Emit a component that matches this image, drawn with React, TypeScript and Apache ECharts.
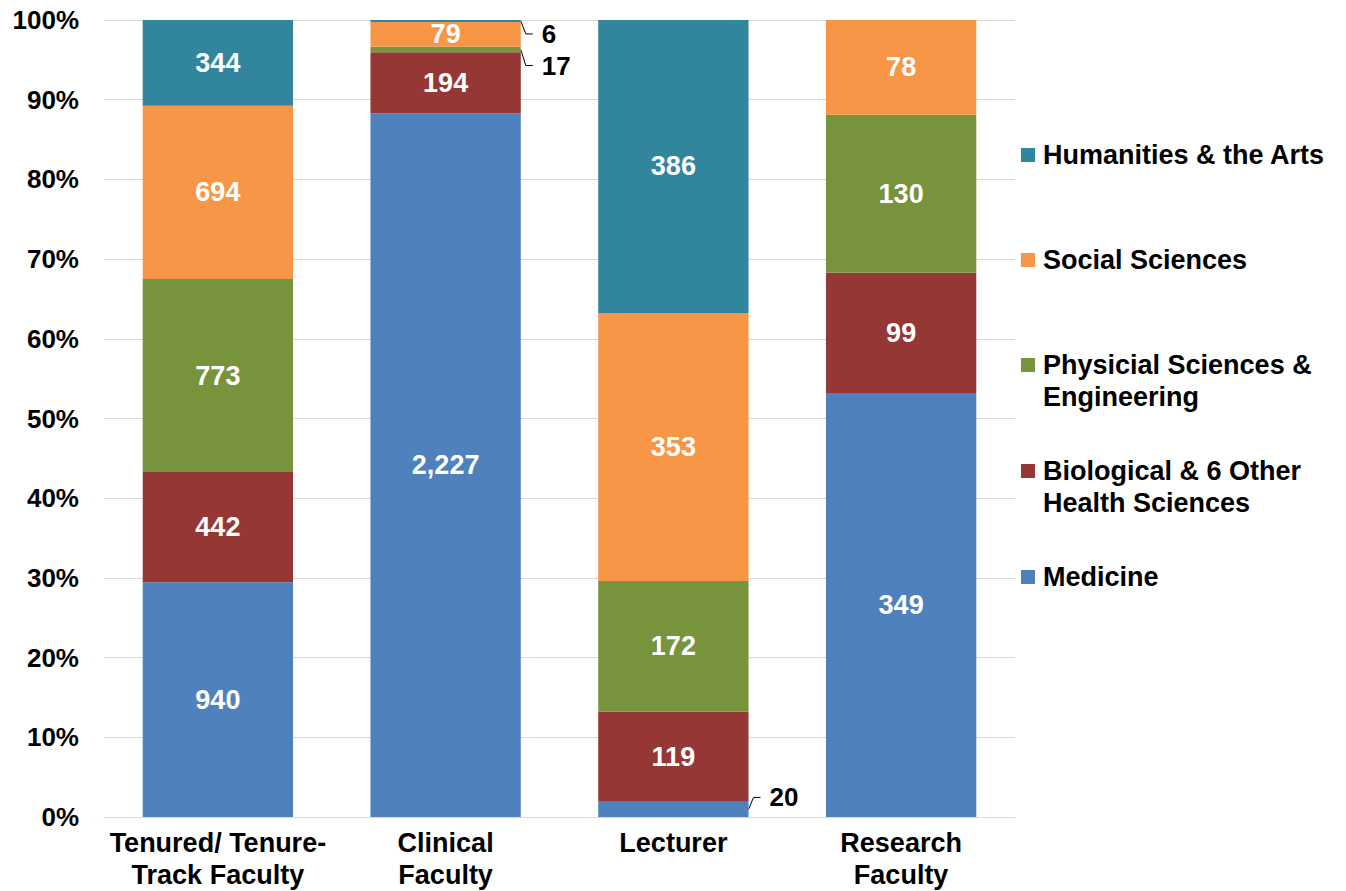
import React, { useEffect, useRef } from "react";
import * as echarts from "echarts";

const categories = ["Tenured/ Tenure-\nTrack Faculty", "Clinical\nFaculty", "Lecturer", "Research\nFaculty"];
const seriesNames = [
  "Medicine",
  "Biological & 6 Other Health Sciences",
  "Physicial Sciences & Engineering",
  "Social Sciences",
  "Humanities & the Arts",
];
const legendLabels = [
  "Medicine",
  "Biological & 6 Other\nHealth Sciences",
  "Physicial Sciences &\nEngineering",
  "Social Sciences",
  "Humanities & the Arts",
];
const colors = ["#4F81BD", "#953735", "#77933C", "#F79646", "#31859C"];
const medicine = [940, 2227, 20, 349];
const biological = [442, 194, 119, 99];
const physical = [773, 17, 172, 130];
const social = [694, 79, 353, 78];
const humanities = [344, 6, 386, 0];
const yTicks = [0, 10, 20, 30, 40, 50, 60, 70, 80, 90, 100];

const counts = [medicine, biological, physical, social, humanities];
// legend first-line centres (Medicine ... Humanities)
const legendY = [577, 471, 365, 260, 155];

// small outside labels: [seriesIndex, categoryIndex, labelDy]
const outsideLabels: [number, number, number][] = [
  [4, 1, 13],
  [2, 1, 16],
  [0, 2, -12],
];

const FONT = "'Liberation Sans', Arial, sans-serif";
const FS = 27;
const BAR_RATIO = 0.66;

export default function App() {
  const ref = useRef<HTMLDivElement>(null);
  useEffect(() => {
    if (!ref.current) return;
    const chart = echarts.init(ref.current, null, { renderer: "svg" });
    const totals = categories.map((_, c) => counts.reduce((s, arr) => s + arr[c], 0));
    const pct = counts.map((arr) => arr.map((v, ci) => (v / totals[ci]) * 100));
    const fmt = (n: number) => n.toLocaleString("en-US");
    const isOutside = (si: number, ci: number) => outsideLabels.some((x) => x[0] === si && x[1] === ci);

    const series = counts.map((arr, si) => ({
      name: seriesNames[si],
      type: "bar",
      stack: "all",
      barWidth: BAR_RATIO * 100 + "%",
      itemStyle: { color: colors[si] },
      label: {
        show: true,
        position: "inside",
        color: "#fff",
        fontWeight: "bold",
        fontSize: FS,
        fontFamily: FONT,
        formatter: (p: any) => (p.data.raw ? fmt(p.data.raw) : ""),
      },
      data: arr.map((v, ci) => {
        const item: any = { value: pct[si][ci], raw: v };
        if (isOutside(si, ci)) item.label = { show: false };
        return item;
      }),
    }));

    const graphic: any[] = [];
    legendLabels.forEach((name, i) => {
      const y = legendY[i];
      graphic.push({
        type: "rect",
        shape: { x: 1021, y: y - 7, width: 14, height: 14 },
        style: { fill: colors[i] },
      });
      graphic.push({
        type: "text",
        x: 1043,
        y: y - 16,
        style: {
          text: name,
          fill: "#000",
          fontSize: FS,
          fontWeight: "bold",
          fontFamily: FONT,
          lineHeight: 32,
          verticalAlign: "top",
          align: "left",
        },
      });
    });

    const option: any = {
      animation: false,
      grid: { left: 104, right: 331, top: 20, bottom: 74, outerBoundsMode: "none" },
      xAxis: {
        type: "category",
        data: categories,
        axisLine: { show: true, lineStyle: { color: "#d9d9d9", width: 1 } },
        axisTick: { show: false },
        axisLabel: {
          color: "#000",
          fontSize: FS,
          fontWeight: "bold",
          fontFamily: FONT,
          lineHeight: 32,
          margin: 10,
          interval: 0,
        },
      },
      yAxis: {
        type: "value",
        min: yTicks[0],
        max: yTicks[yTicks.length - 1],
        interval: 10,
        axisLine: { show: false },
        axisTick: { show: false },
        splitLine: { lineStyle: { color: "#d9d9d9", width: 1 } },
        axisLabel: {
          color: "#000",
          fontSize: 26,
          fontWeight: "bold",
          fontFamily: FONT,
          margin: 25,
          formatter: "{value}%",
        },
      },
      series,
      graphic,
    };
    chart.setOption(option);

    // leader lines + outside labels placed via the library's own scales
    const p0 = chart.convertToPixel({ xAxisIndex: 0, yAxisIndex: 0 } as any, [0, 0]) as number[];
    const p1 = chart.convertToPixel({ xAxisIndex: 0, yAxisIndex: 0 } as any, [1, 0]) as number[];
    const halfBar = ((p1[0] - p0[0]) * BAR_RATIO) / 2;
    outsideLabels.forEach(([si, ci, dy]) => {
      let start = 0;
      for (let k = 0; k < si; k++) start += pct[k][ci];
      const mid = start + pct[si][ci] / 2;
      const pt = chart.convertToPixel({ xAxisIndex: 0, yAxisIndex: 0 } as any, [ci, mid]) as number[];
      const ex = pt[0] + halfBar;
      const ly = pt[1] + dy;
      graphic.push({
        type: "polyline",
        shape: { points: [[ex, pt[1]], [ex + 5, ly], [ex + 12, ly]] },
        style: { stroke: "#000", lineWidth: 1, fill: "none" },
      });
      graphic.push({
        type: "text",
        x: ex + 21,
        y: ly,
        style: {
          text: fmt(counts[si][ci]),
          fill: "#000",
          fontSize: 26,
          fontWeight: "bold",
          fontFamily: FONT,
          lineHeight: 22,
          verticalAlign: "middle",
          align: "left",
        },
      });
    });
    chart.setOption({ graphic });

    return () => chart.dispose();
  }, []);
  return (
    <div
      ref={ref}
      style={{ position: "absolute", left: 0, top: 0, width: 1346, height: 891 }}
    />
  );
}
